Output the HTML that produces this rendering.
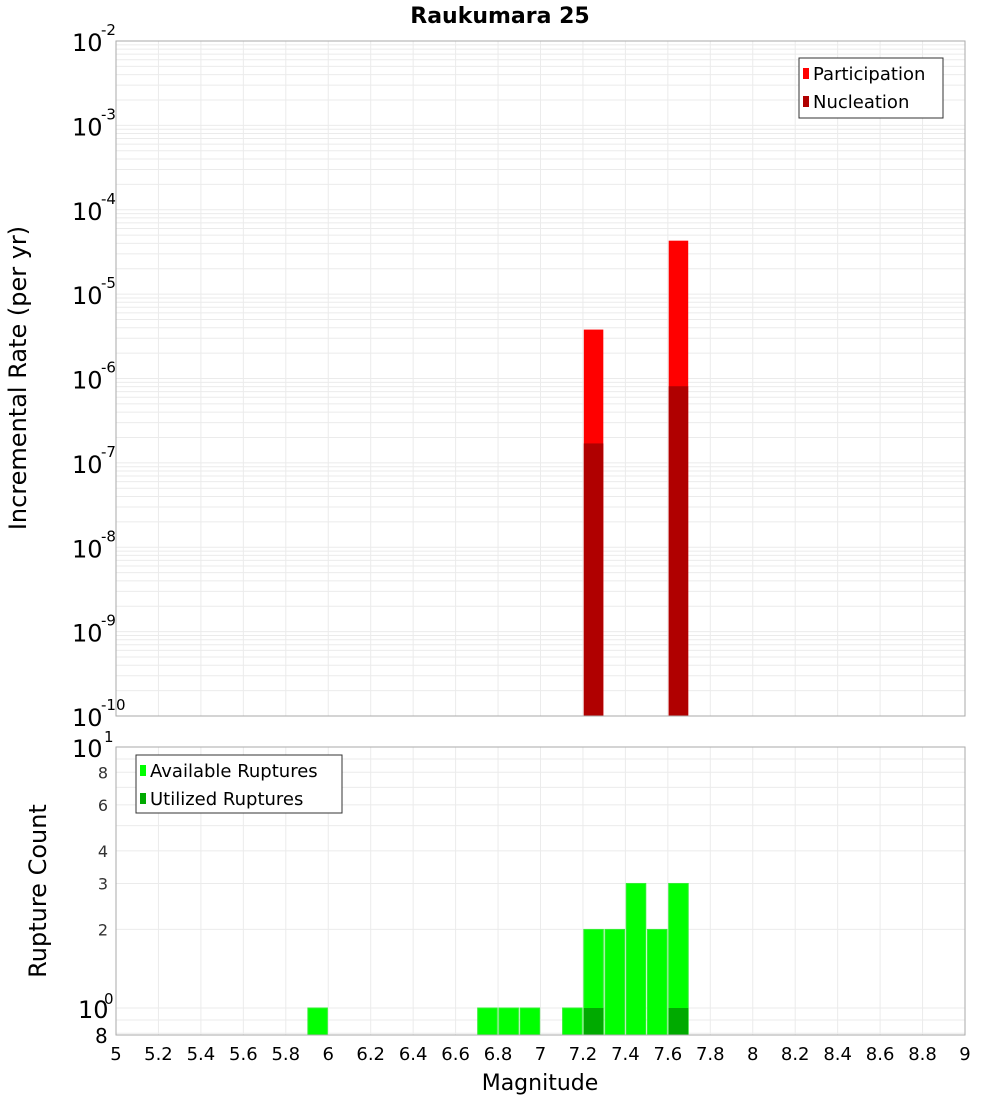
<!DOCTYPE html>
<html><head><meta charset="utf-8"><style>
body{margin:0;background:#fff;width:1000px;height:1100px;overflow:hidden}
svg text{font-family:"DejaVu Sans","Liberation Sans",sans-serif}
</style></head><body>
<svg id="c" width="1000" height="1100" xmlns="http://www.w3.org/2000/svg"></svg>
<script>
const topMags=[7.25,7.65];
const participation=[3.8e-6,4.3e-5];
const nucleation=[1.7e-7,8.1e-7];
const botMags=[5.95,6.75,6.85,6.95,7.15,7.25,7.35,7.45,7.55,7.65];
const available=[1,1,1,1,1,2,2,3,2,3];
const utilized=[0,0,0,0,0,1,0,0,0,1];
const xTicks=["5","5.2","5.4","5.6","5.8","6","6.2","6.4","6.6","6.8","7","7.2","7.4","7.6","7.8","8","8.2","8.4","8.6","8.8","9"];
const topExp=[-2,-3,-4,-5,-6,-7,-8,-9,-10];
const botTicks=[["8",8],["6",6],["4",4],["3",3],["2",2]];

const svg=document.getElementById('c');const NS='http://www.w3.org/2000/svg';
function el(t,a,name,txt){const e=document.createElementNS(NS,t);for(const k in a)e.setAttribute(k,a[k]);


if(txt!==undefined)e.textContent=txt;svg.appendChild(e);return e;}
const X0=116,X1=965;
const x=m=>X0+(m-5)/4*(X1-X0);
const T0=41,T1=716;
const yT=v=>T0+(-2-Math.log10(v))/8*(T1-T0);
const B0=747,B1=1035;
const yB=v=>1008-Math.log10(v)*261;

// title
el('text',{x:500,y:23,'text-anchor':'middle','font-size':22,'font-weight':'bold'},'chart-title','Raukumara 25');
// top grid
for(let d=-10;d<-2;d++){for(let k=1;k<10;k++){const y=yT(k*Math.pow(10,d));el('line',{x1:X0,x2:X1,y1:y,y2:y,stroke:'#ebebeb'},'top-grid-h');}}
for(let i=0;i<=20;i++){const xx=x(5+i*0.2);el('line',{x1:xx,x2:xx,y1:T0,y2:T1,stroke:'#ebebeb'},'top-grid-v');el('line',{x1:xx,x2:xx,y1:B0,y2:B1,stroke:'#ebebeb'},'bottom-grid-v');}
for(let d=-1;d<1;d++){for(let k=1;k<10;k++){const v=k*Math.pow(10,d);if(v<0.8)continue;const y=yB(v);el('line',{x1:X0,x2:X1,y1:y,y2:y,stroke:'#ebebeb'},'bottom-grid-h');}}
const bw=19.5*4/(X1-X0);
// top bars
topMags.forEach((m,i)=>{
 el('rect',{x:x(m)-9.75,y:yT(participation[i]),width:19.5,height:T1-yT(participation[i]),fill:'#ff0000'},'participation-bar');
 el('rect',{x:x(m)-9.75,y:yT(nucleation[i]),width:19.5,height:T1-yT(nucleation[i]),fill:'#b00000'},'nucleation-bar');
});
botMags.forEach((m,i)=>{
 el('rect',{x:x(m)-9.75,y:yB(available[i]),width:19.5,height:B1-yB(available[i]),fill:'#00ff00',stroke:'#33ee33','stroke-width':1},'available-bar');
 if(utilized[i]>0)el('rect',{x:x(m)-9.75,y:yB(utilized[i]),width:19.5,height:B1-yB(utilized[i]),fill:'#00aa00'},'utilized-bar');
});
el('rect',{x:X0,y:T0,width:X1-X0,height:T1-T0,fill:'none',stroke:'#aaa'},'top-plot-frame');
el('rect',{x:X0,y:B0,width:X1-X0,height:B1-B0,fill:'none',stroke:'#aaa'},'bottom-plot-frame');
// top y labels
topExp.forEach(e=>{const y=yT(Math.pow(10,e));
 const t=el('text',{x:72,y:y+10,'font-size':24},'top-y-tick-label');t.textContent='10';
 el('text',{x:101,y:y-6,'font-size':15},'top-y-tick-exp',String(e));});
el('text',{x:72,y:yB(10)+10,'font-size':24},'bottom-y-tick-label','10');
el('text',{x:104,y:yB(10)-5,'font-size':15},'bottom-y-tick-exp','1');
el('text',{x:78,y:yB(1)+10,'font-size':24},'bottom-y-tick-label','10');
el('text',{x:104,y:yB(1)-4,'font-size':15},'bottom-y-tick-exp','0');
el('text',{x:95,y:1043,'font-size':20},'bottom-y-tick-label','8');
botTicks.forEach(b=>{el('text',{x:108,y:yB(b[1])+6,'font-size':16,'text-anchor':'end',fill:'#333'},'bottom-y-tick-label',b[0]);});
xTicks.forEach(t=>{el('text',{x:x(parseFloat(t)),y:1060,'font-size':18,'text-anchor':'middle'},'x-tick-label',t);});
el('text',{x:540,y:1090,'font-size':22,'text-anchor':'middle'},'x-axis-title','Magnitude');
el('text',{x:0,y:0,'font-size':24,'text-anchor':'middle',transform:'translate(26,378) rotate(-90)'},'top-y-axis-title','Incremental Rate (per yr)');
el('text',{x:0,y:0,'font-size':24,'text-anchor':'middle',transform:'translate(46,891) rotate(-90)'},'bottom-y-axis-title','Rupture Count');
// legends
el('rect',{x:799,y:58,width:144,height:60,fill:'#fff',stroke:'#333'},'top-legend');
el('rect',{x:803,y:68,width:6,height:11,fill:'#ff0000'},'legend-participation-swatch');
el('text',{x:813,y:80,'font-size':18},'legend-participation','Participation');
el('rect',{x:803,y:96,width:6,height:11,fill:'#b00000'},'legend-nucleation-swatch');
el('text',{x:813,y:108,'font-size':18},'legend-nucleation','Nucleation');
el('rect',{x:136,y:755,width:206,height:58,fill:'#fff',stroke:'#333'},'bottom-legend');
el('rect',{x:140,y:765,width:6,height:11,fill:'#00ff00'},'legend-available-swatch');
el('text',{x:150,y:777,'font-size':18},'legend-available','Available Ruptures');
el('rect',{x:140,y:793,width:6,height:11,fill:'#00aa00'},'legend-utilized-swatch');
el('text',{x:150,y:805,'font-size':18},'legend-utilized','Utilized Ruptures');
</script>
</body></html>
